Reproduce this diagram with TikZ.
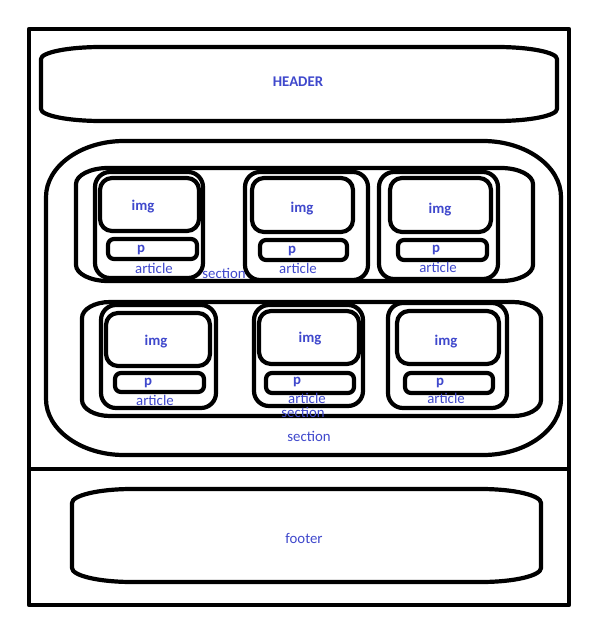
\documentclass[tikz,border=0pt]{standalone}
\usepackage{fontspec}
\setmainfont{Carlito}
\definecolor{wfblue}{RGB}{63,72,204}
\tikzset{
  wfline/.style={line width=4.2pt, line join=round},
  lbl/.style={text=wfblue, font=\fontsize{14.8}{16}\selectfont, inner sep=0pt},
  blbl/.style={text=wfblue, font=\fontsize{14.8}{16}\selectfont\bfseries, inner sep=0pt},
}
% barrel-like box with elliptical corners: [style]{x1}{y1}{x2}{y2}{rx}{ry}
\newcommand\wfbarrel[7][]{%
  \draw[wfline,#1] ({#2},{#3+#7}) .. controls ({#2},{#3+0.45*#7}) and ({#2+0.45*#6},{#3}) .. ({#2+#6},{#3})
    -- ({#4-#6},{#3}) .. controls ({#4-0.45*#6},{#3}) and ({#4},{#3+0.45*#7}) .. ({#4},{#3+#7})
    -- ({#4},{#5-#7}) .. controls ({#4},{#5-0.45*#7}) and ({#4-0.45*#6},{#5}) .. ({#4-#6},{#5})
    -- ({#2+#6},{#5}) .. controls ({#2+0.45*#6},{#5}) and ({#2},{#5-0.45*#7}) .. ({#2},{#5-#7}) -- cycle;}
\begin{document}
\begin{tikzpicture}[x=1pt,y=-1pt]
\useasboundingbox[fill=white] (0,0) rectangle (591,626);
% outer frame and divider
\draw[wfline] (29,29) rectangle (569,605);
\draw[wfline] (29,469) -- (569,469);
% header and footer
\wfbarrel{41}{47}{557}{121}{60}{12}
\wfbarrel{72}{489}{541}{582}{60}{14}
% big section
\wfbarrel{46}{141}{561}{455}{78}{56}
% row sections
\wfbarrel{76}{168}{533}{281}{32}{16}
\wfbarrel{82}{302}{541}{416}{28}{16}
% row 1 articles
\draw[wfline,rounded corners=15pt] (95,172) rectangle (203,278);
\draw[wfline,rounded corners=12pt] (100,178) rectangle (199,231);
\draw[wfline,rounded corners=6pt] (108,239) rectangle (197,259);
\draw[wfline,rounded corners=15pt] (245,172) rectangle (368,280);
\draw[wfline,rounded corners=12pt] (252,178) rectangle (353,232);
\draw[wfline,rounded corners=6pt] (260,240) rectangle (347,260);
\draw[wfline,rounded corners=15pt] (379,172) rectangle (498,279);
\draw[wfline,rounded corners=12pt] (390,178) rectangle (491,232);
\draw[wfline,rounded corners=6pt] (398,240) rectangle (487,260);
% row 2 articles
\draw[wfline,rounded corners=15pt] (101,305) rectangle (216,408);
\draw[wfline,rounded corners=12pt] (106,313) rectangle (210,366);
\draw[wfline,rounded corners=6pt] (115,373) rectangle (204,392);
\draw[wfline,rounded corners=15pt] (254,305) rectangle (363,406);
\draw[wfline,rounded corners=12pt] (259,311) rectangle (359,364);
\draw[wfline,rounded corners=6pt] (266,373) rectangle (354,393);
\draw[wfline,rounded corners=15pt] (388,303) rectangle (507,408);
\draw[wfline,rounded corners=12pt] (397,311) rectangle (499,364);
\draw[wfline,rounded corners=6pt] (405,373) rectangle (493,393);
% labels
\node[blbl] (hdr) at (298,82) {HEADER};
\node[lbl] (ftr) at (304,538) {footer};
\node[blbl] (img1) at (143,207) {img};
\node[blbl] (p1) at (141,250) {p};
\node[lbl] (art1) at (154,268) {article};
\node[lbl] (sec1) at (224,273) {section};
\node[blbl] (img2) at (302,209) {img};
\node[blbl] (p2) at (292,251) {p};
\node[lbl] (art2) at (298,268) {article};
\node[blbl] (img3) at (440,210) {img};
\node[blbl] (p3) at (436,250) {p};
\node[lbl] (art3) at (438,267) {article};
\node[blbl] (img4) at (156,342) {img};
\node[blbl] (p4) at (148,383) {p};
\node[lbl] (art4) at (155,400) {article};
\node[blbl] (img5) at (310,339) {img};
\node[blbl] (p5) at (297,382) {p};
\node[lbl] (art5) at (307,398) {article};
\node[lbl] (sec2) at (303,412) {section};
\node[blbl] (img6) at (446,342) {img};
\node[blbl] (p6) at (440,383) {p};
\node[lbl] (art6) at (446,398) {article};
\node[lbl] (sec0) at (309,436) {section};
\end{tikzpicture}
\end{document}
